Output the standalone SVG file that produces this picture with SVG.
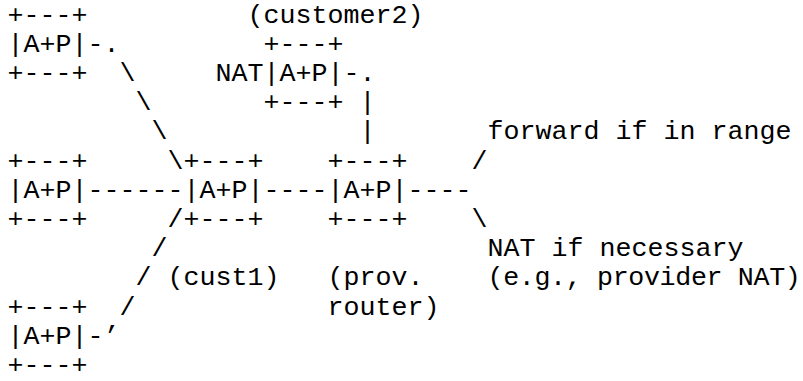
<svg xmlns="http://www.w3.org/2000/svg" width="803" height="381" viewBox="0 0 803 381">
<style>
text { font-family: "Liberation Mono", "Courier New", monospace; font-size: 26.67px; fill: #000; white-space: pre; }
</style>
<rect x="0" y="0" width="803" height="381" fill="#fff"/>
<g id="node-top-left">
  <text x="7.5" y="22.6">+---+</text>
  <text x="7.5" y="51.8">|A+P|</text>
  <text x="7.5" y="81">+---+</text>
</g>
<g id="node-customer2">
  <text x="247.5" y="22.6">(customer2)</text>
  <text x="263.5" y="51.8">+---+</text>
  <text x="215.5" y="81">NAT|A+P|</text>
  <text x="263.5" y="110.2">+---+</text>
</g>
<g id="node-left">
  <text x="7.5" y="168.6">+---+</text>
  <text x="7.5" y="197.8">|A+P|</text>
  <text x="7.5" y="227">+---+</text>
</g>
<g id="node-cust1">
  <text x="183.5" y="168.6">+---+</text>
  <text x="183.5" y="197.8">|A+P|</text>
  <text x="183.5" y="227">+---+</text>
  <text x="167.5" y="285.4">(cust1)</text>
</g>
<g id="node-provider">
  <text x="327.5" y="168.6">+---+</text>
  <text x="327.5" y="197.8">|A+P|</text>
  <text x="327.5" y="227">+---+</text>
  <text x="327.5" y="285.4">(prov.</text>
  <text x="327.5" y="314.6">router)</text>
</g>
<g id="node-bottom-left">
  <text x="7.5" y="314.6">+---+</text>
  <text x="7.5" y="343.8">|A+P|</text>
  <text x="7.5" y="373">+---+</text>
</g>
<g id="annotations">
  <text x="487.5" y="139.4">forward if in range</text>
  <text x="487.5" y="256.2">NAT if necessary</text>
  <text x="487.5" y="285.4" letter-spacing="-0.35">(e.g., provider NAT)</text>
</g>
<g id="connectors">
  <text x="87.5" y="51.8">-.</text>
  <text x="119.5" y="81">\</text>
  <text x="135.5" y="110.2">\</text>
  <text x="151.5" y="139.4">\</text>
  <text x="167.5" y="168.6">\</text>
  <text x="343.5" y="81">-.</text>
  <text x="359.5" y="110.2">|</text>
  <text x="359.5" y="139.4">|</text>
  <text x="87.5" y="197.8">------</text>
  <text x="263.5" y="197.8">----</text>
  <text x="407.5" y="197.8">----</text>
  <text x="471.5" y="168.6">/</text>
  <text x="471.5" y="227">\</text>
  <text x="167.5" y="227">/</text>
  <text x="151.5" y="256.2">/</text>
  <text x="135.5" y="285.4">/</text>
  <text x="119.5" y="314.6">/</text>
  <text x="87.5" y="343.8">-’</text>
</g>
</svg>
